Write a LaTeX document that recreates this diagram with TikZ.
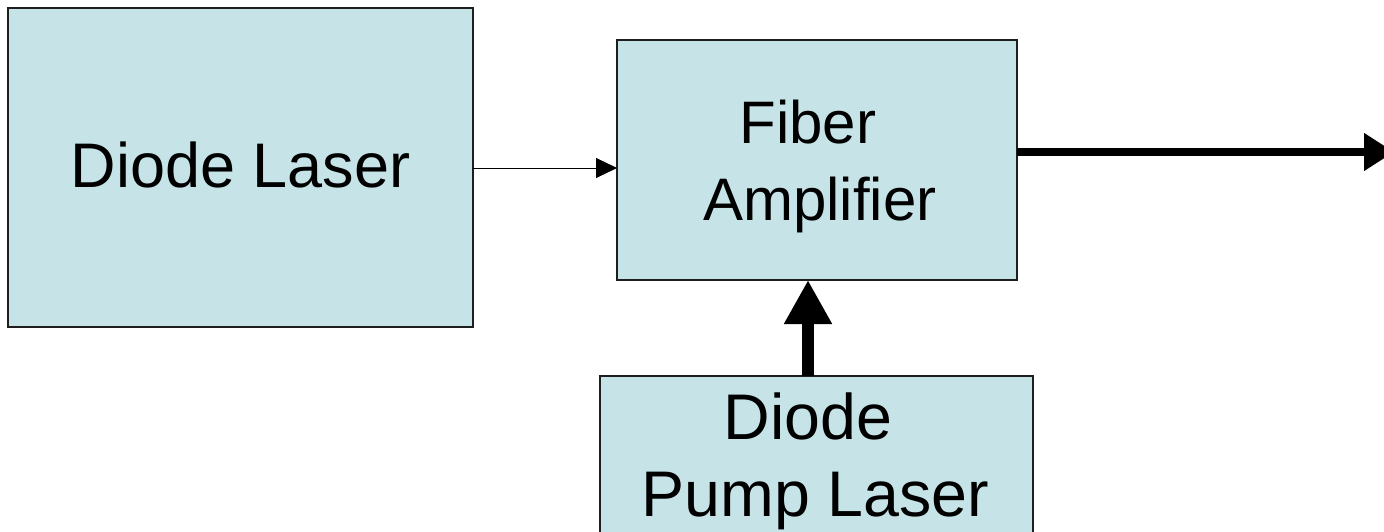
\documentclass[tikz,border=0pt]{standalone}
\usepackage{fontspec}
\setmainfont{Liberation Sans}
\usetikzlibrary{arrows.meta}
\definecolor{boxfill}{RGB}{198,228,232}
\definecolor{boxline}{RGB}{30,30,30}
\tikzset{
  blk/.style={draw=boxline, line width=2pt, fill=boxfill, inner sep=0pt, outer sep=0pt},
  lbl/.style={anchor=base, inner sep=0pt},
  thin/.style={line width=1pt, -{Triangle[length=21pt,width=20pt]}},
  thick/.style={line width=8pt, -{Triangle[length=30pt,width=36pt]}},
  thicker/.style={line width=12pt, -{Triangle[length=44pt,width=45pt]}}
}
\begin{document}
\begin{tikzpicture}[x=1pt,y=-1pt]
\useasboundingbox (0,0) rectangle (1384,532);
\node[blk, minimum width=465pt, minimum height=319pt] (dl) at (240.5,167.5) {};
\node[blk, minimum width=400pt, minimum height=240pt] (fa) at (817,160) {};
\node[blk, minimum width=433pt, minimum height=164pt] (pl) at (816.5,458) {};
\node[lbl, font=\fontsize{63}{75}\selectfont] (t1) at (240.5,187) {Diode Laser};
\node[lbl, font=\fontsize{60}{72}\selectfont] (t2) at (808,143) {Fiber};
\node[lbl, font=\fontsize{60}{72}\selectfont] (t3) at (820,220) {Amplifier};
\node[lbl, font=\fontsize{64.5}{77}\selectfont] (t4) at (808,439) {Diode};
\node[lbl, font=\fontsize{64.5}{77}\selectfont] (t5) at (815.5,516) {Pump Laser};
\coordinate (a1) at (473,168);
\coordinate (out) at (1394,152);
\coordinate (pt) at (808,376);
\draw[thin] (a1) -- (a1 -| fa.west);
\draw[thick] (fa.east |- out) -- (out);
\draw[thicker] (pt) -- (pt |- fa.south);
\end{tikzpicture}
\end{document}
